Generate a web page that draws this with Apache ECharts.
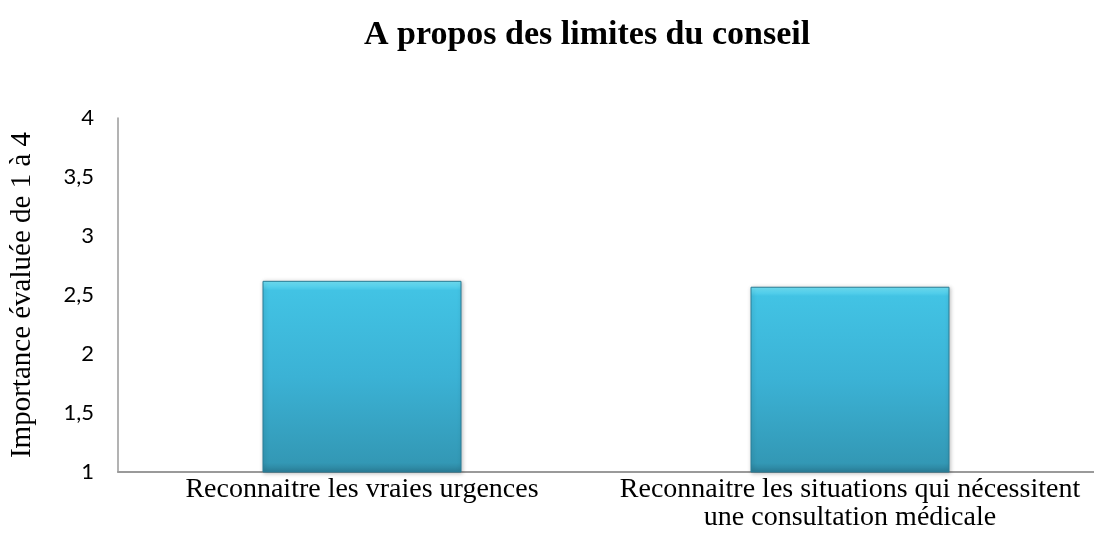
<!DOCTYPE html>
<html>
<head>
<meta charset="utf-8">
<script src="https://cdn.jsdelivr.net/npm/echarts@6/dist/echarts.min.js"></script>
<style>
  html, body { margin: 0; padding: 0; background: #fff; }
  #chart { width: 1094px; height: 560px; }
</style>
</head>
<body>
<div id="chart"></div>
<script>
const categories = ['Reconnaitre les vraies urgences', 'Reconnaitre les situations qui nécessitent\nune consultation médicale']
const values = [2.62, 2.57]
const yTicks = [1, 1.5, 2, 2.5, 3, 3.5, 4]

const chart = echarts.init(document.getElementById('chart'))

const option = {
	backgroundColor: '#fff',
	animation: false,
	title: {
		text: 'A propos des limites du conseil',
		left: 359,
		top: 13,
		textStyle: {
			fontFamily: 'Liberation Serif',
			fontWeight: 'bold',
			fontSize: 34,
			color: '#000'
		}
	},
	grid: {
		left: 118,
		right: -6,
		top: 118,
		bottom: 88
	},
	xAxis: {
		type: 'category',
		data: categories,
		axisTick: { show: false },
		axisLine: { lineStyle: { color: '#9a9a9a', width: 2 } },
		axisLabel: {
			interval: 0,
			margin: 4,
			fontFamily: 'Liberation Serif',
			fontSize: 28,
			color: '#000',
			lineHeight: 28
		}
	},
	yAxis: {
		type: 'value',
		min: 1,
		max: 4,
		interval: 0.5,
		name: 'Importance évaluée de 1 à 4',
		nameLocation: 'middle',
		nameGap: 81,
		nameTextStyle: {
			fontFamily: 'Liberation Serif',
			fontSize: 29,
			color: '#000'
		},
		splitLine: { show: false },
		axisTick: { show: false },
		axisLine: { show: true, lineStyle: { color: '#9a9a9a', width: 1.5 } },
		axisLabel: {
			margin: 24,
			fontFamily: 'Lato',
			fontSize: 22,
			color: '#000',
			formatter: v => yTicks.indexOf(v) >= 0 ? String(v).replace('.', ',') : ''
		}
	},
	series: [
		{
			type: 'bar',
			data: values,
			barWidth: 199,
			itemStyle: {
				color: {
					type: 'linear', x: 0, y: 0, x2: 0, y2: 1,
					colorStops: [
						{ offset: 0, color: '#74e6fa' },
						{ offset: 0.05, color: '#42c3e4' },
						{ offset: 0.5, color: '#3bb2d5' },
						{ offset: 0.95, color: '#3398b5' },
						{ offset: 1, color: '#2a7d96' }
					]
				},
				borderColor: '#2a7d96',
				borderWidth: 1,
				shadowColor: 'rgba(0,0,0,0.25)',
				shadowBlur: 4,
				shadowOffsetX: 1,
				shadowOffsetY: 1
			}
		}
	]
}

chart.setOption(option)
</script>
</body>
</html>
